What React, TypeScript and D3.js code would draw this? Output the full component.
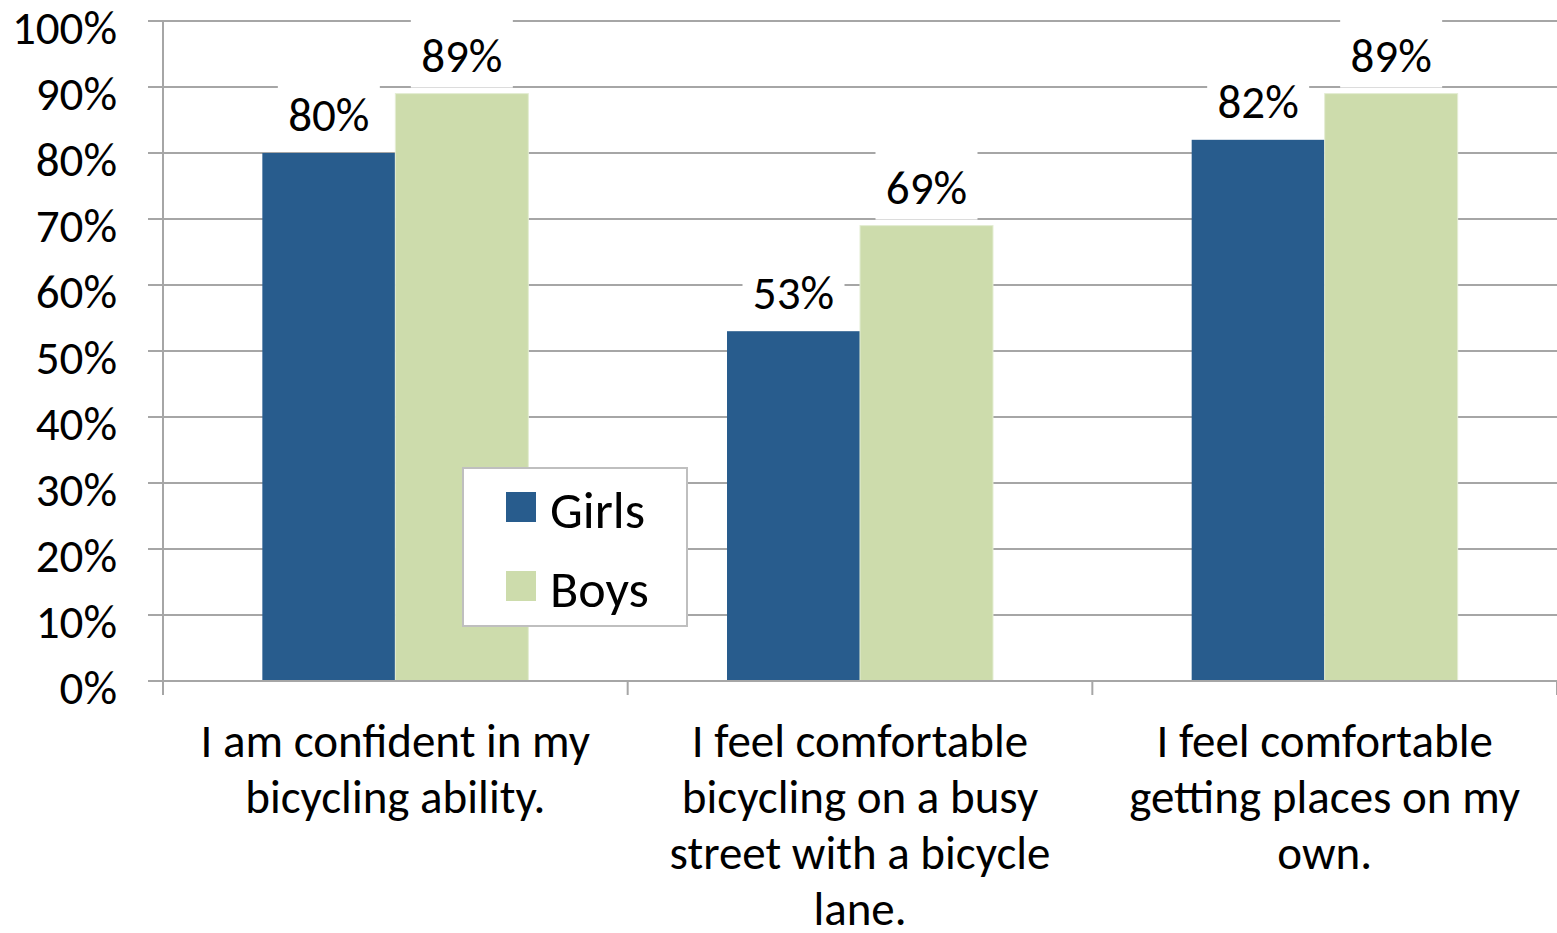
import * as d3 from "d3";
import { useEffect } from "react";

const categories = [
  ["I am confident in my", "bicycling ability."],
  ["I feel comfortable", "bicycling on a busy", "street with a bicycle", "lane."],
  ["I feel comfortable", "getting places on my", "own."],
];
const seriesNames = ["Girls", "Boys"];
const girls = [80, 53, 82];
const boys = [89, 69, 89];
const yTicks = [0, 10, 20, 30, 40, 50, 60, 70, 80, 90, 100];
const colors = ["#285c8d", "#cddcac"];

const W = 1557;
const H = 933;
const margin = { top: 21, right: 0, bottom: 252, left: 163 };
const font = "Carlito, Calibri, Lato, sans-serif";
const fs = 47;

export default function App() {
  useEffect(() => {
    document.body.style.margin = "0";
  }, []);

  const values = [girls, boys];
  const x0 = d3
    .scaleBand<number>()
    .domain(d3.range(categories.length))
    .range([margin.left, W - margin.right]);
  const x1 = d3
    .scaleBand<number>()
    .domain([0, 1])
    .range([0, x0.bandwidth()])
    .paddingInner(0)
    .paddingOuter(0.747);
  const y = d3.scaleLinear().domain([0, 100]).range([H - margin.bottom, margin.top]);
  const y0 = y(0);

  return (
    <svg width={W} height={H} style={{ display: "block", background: "#fff" }} fontFamily={font}>
      {/* gridlines + y ticks */}
      {yTicks.map((t) => (
        <g key={t}>
          <line x1={margin.left - 15} x2={W} y1={y(t)} y2={y(t)} stroke="#a6a6a6" strokeWidth={2} />
          <text x={117} y={y(t) + 6} dy="0.36em" textAnchor="end" fontSize={fs} fill="#000">
            {t}%
          </text>
        </g>
      ))}
      {/* y axis */}
      <line x1={margin.left} x2={margin.left} y1={margin.top} y2={y0} stroke="#a6a6a6" strokeWidth={2} />
      {/* x axis ticks */}
      {d3.range(categories.length + 1).map((i) => {
        const xx = i < categories.length ? x0(i)! : W - margin.right;
        return <line key={i} x1={xx} x2={xx} y1={y0} y2={y0 + 14} stroke="#a6a6a6" strokeWidth={2} />;
      })}
      {/* bars */}
      {categories.map((_, ci) =>
        values.map((vals, si) => (
          <rect
            key={`${ci}-${si}`}
            x={x0(ci)! + x1(si)!}
            y={y(vals[ci])}
            width={x1.bandwidth()}
            height={y0 - y(vals[ci])}
            fill={colors[si]}
            stroke={si === 1 ? "#e4edd3" : "none"}
            strokeWidth={1}
          />
        ))
      )}
      {/* data labels, white box hides the gridlines behind */}
      {categories.map((_, ci) =>
        values.map((vals, si) => {
          const cx = x0(ci)! + x1(si)! + x1.bandwidth() / 2;
          const base = y(vals[ci]) - 22;
          return (
            <g key={`l-${ci}-${si}`}>
              <rect x={cx - 51} y={base - 54} width={102} height={70} fill="#fff" />
              <text x={cx} y={base} textAnchor="middle" fontSize={fs} fill="#000">
                {vals[ci]}%
              </text>
            </g>
          );
        })
      )}
      {/* x axis line */}
      <line x1={margin.left - 13} x2={W} y1={y0} y2={y0} stroke="#a6a6a6" strokeWidth={2} />
      {/* category labels */}
      {categories.map((lines, ci) => (
        <text key={ci} x={x0(ci)! + x0.bandwidth() / 2} y={757} textAnchor="middle" fontSize={fs} fill="#000">
          {lines.map((l, li) => (
            <tspan key={li} x={x0(ci)! + x0.bandwidth() / 2} dy={li === 0 ? 0 : 56}>
              {l}
            </tspan>
          ))}
        </text>
      ))}
      {/* legend */}
      <g>
        <rect x={463} y={468} width={224} height={158} fill="#fff" stroke="#bfbfbf" strokeWidth={2} />
        {seriesNames.map((s, i) => (
          <g key={s}>
            <rect x={506} y={492 + i * 79} width={30} height={30} fill={colors[i]} />
            <text x={550} y={528 + i * 79} fontSize={52} fill="#000">
              {s}
            </text>
          </g>
        ))}
      </g>
    </svg>
  );
}
